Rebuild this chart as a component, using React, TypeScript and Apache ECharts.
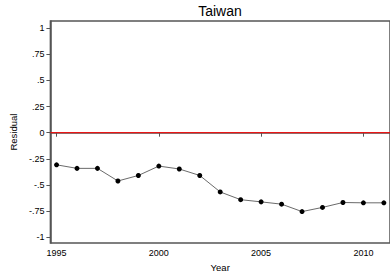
import React, { useEffect, useRef } from "react";
import * as echarts from "echarts";

const years = [1995, 1996, 1997, 1998, 1999, 2000, 2001, 2002, 2003, 2004, 2005, 2006, 2007, 2008, 2009, 2010, 2011];
const residuals = [-0.308, -0.342, -0.342, -0.463, -0.41, -0.32, -0.348, -0.41, -0.568, -0.642, -0.663, -0.685, -0.756, -0.716, -0.669, -0.672, -0.672];
const yTicks = [-1, -0.75, -0.5, -0.25, 0, 0.25, 0.5, 0.75, 1];
const xTicks = [1995, 2000, 2005, 2010];
const referenceLevel = 0;

const fmtY = (v: number) => {
  if (v === 0) return "0";
  const s = String(v);
  return s.replace(/^(-?)0\./, "$1.");
};

export default function App() {
  const ref = useRef<HTMLDivElement>(null);
  useEffect(() => {
    const chart = echarts.init(ref.current!, null, { renderer: "svg" });
    const font = "'Liberation Sans', Arial, Helvetica, sans-serif";
    const axisColor = "#555";
    chart.setOption({
      animation: false,
      backgroundColor: "#fff",
      title: {
        text: "Taiwan",
        left: 220,
        top: 4,
        padding: 0,
        textAlign: "center",
        textStyle: { fontFamily: font, fontSize: 14, fontWeight: "normal", color: "#000" },
      },
      grid: {
        left: 47,
        right: -4,
        top: 21,
        bottom: 26,
        show: true,
        borderColor: axisColor,
        borderWidth: 1.5,
        containLabel: false,
      },
      xAxis: {
        type: "value",
        min: 1994.7,
        max: 2011.3,
        name: "Year",
        nameLocation: "middle",
        nameGap: 17,
        nameTextStyle: { fontFamily: font, fontSize: 9.5, color: "#000" },
        axisLine: { show: true, lineStyle: { color: axisColor, width: 1.5 } },
        axisTick: { show: true, length: 4, customValues: xTicks, lineStyle: { color: axisColor } },
        axisLabel: {
          customValues: xTicks,
          fontFamily: font,
          fontSize: 9,
          color: "#000",
          margin: 5,
          formatter: (v: number) => String(v),
        },
        splitLine: { show: false },
      },
      yAxis: {
        type: "value",
        min: -1.058,
        max: 1.07,
        name: "Residual",
        nameLocation: "middle",
        nameGap: 31,
        nameRotate: 90,
        nameTextStyle: { fontFamily: font, fontSize: 9.5, color: "#000" },
        axisLine: { show: true, lineStyle: { color: axisColor, width: 1.5 } },
        axisTick: { show: true, length: 4, customValues: yTicks, lineStyle: { color: axisColor } },
        axisLabel: {
          customValues: yTicks,
          fontFamily: font,
          fontSize: 9,
          color: "#000",
          margin: 6,
          formatter: fmtY,
        },
        splitLine: { show: false },
      },
      series: [
        {
          name: "zero",
          type: "line",
          data: [[1994.7, referenceLevel], [2011.3, referenceLevel]],
          symbol: "none",
          lineStyle: { color: "#ff0000", width: 1 },
          itemStyle: { color: "#ff0000" },
          silent: true,
          z: 2,
        },
        {
          name: "Residual",
          type: "line",
          data: years.map((y, i) => [y, residuals[i]]),
          symbol: "circle",
          symbolSize: 5,
          itemStyle: { color: "#000" },
          lineStyle: { color: "#444", width: 0.8 },
          z: 3,
        },
      ],
    });
    return () => chart.dispose();
  }, []);
  return (
    <div
      ref={ref}
      style={{ position: "fixed", left: 0, top: 0, width: 390, height: 277, background: "#fff" }}
    />
  );
}
